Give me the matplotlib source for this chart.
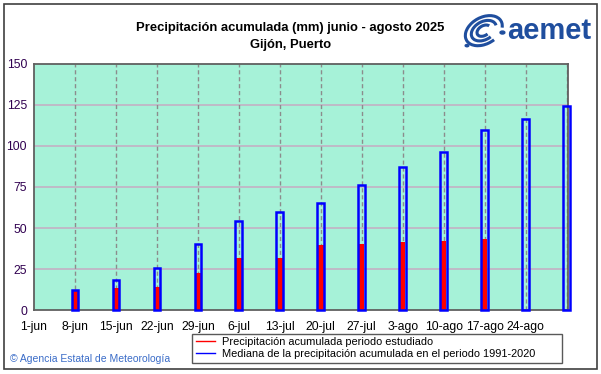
import numpy as np
import matplotlib.pyplot as plt
from matplotlib.patches import Rectangle, Arc, Circle

plt.rcParams['font.family'] = ['Liberation Sans', 'DejaVu Sans']

# days since 1-jun for each weekly mark
days = [7, 14, 21, 28, 35, 42, 49, 56, 63, 70, 77, 84, 91]
tick_days = [0, 7, 14, 21, 28, 35, 42, 49, 56, 63, 70, 77, 84]
tick_labels = ["1-jun", "8-jun", "15-jun", "22-jun", "29-jun", "6-jul", "13-jul",
               "20-jul", "27-jul", "3-ago", "10-ago", "17-ago", "24-ago"]
median = [12, 18, 25.5, 40.5, 54.5, 59.5, 65, 76, 87, 96.5, 109.5, 116.5, 124.5]
observed = [11.5, 13.5, 14, 22.5, 32, 32, 39.5, 40.5, 41.5, 42, 43, np.nan, np.nan]

fig = plt.figure(figsize=(6.01, 3.74), dpi=100)
fig.patch.set_facecolor("white")
fig.patches.append(Rectangle((0.007, 0.013), 0.986, 0.977, transform=fig.transFigure,
                             fill=False, edgecolor="#404040", lw=1.2))

ax = fig.add_axes([0.0566, 0.1711, 0.888, 0.6578])
ax.set_facecolor("#a6f2d8")
ax.set_xlim(0, 91.2)
ax.set_ylim(0, 150)

ax.set_yticks([0, 25, 50, 75, 100, 125, 150])
ax.set_xticks(tick_days)
ax.set_xticklabels(tick_labels)
ax.tick_params(length=0, labelsize=8.7)
ax.tick_params(axis="x", pad=8)
ax.tick_params(axis="y", pad=5)
for lab in ax.get_yticklabels():
    lab.set_color("#300050")

for y in [25, 50, 75, 100, 125]:
    ax.axhline(y, color="#c4b0c4", lw=1.2, zorder=1)
for d in tick_days[1:] + [91]:
    ax.axvline(d, color="#8c8c8c", lw=1, ls=(0, (3, 2)), zorder=1)

for s in ax.spines.values():
    s.set_color("#606060")
    s.set_linewidth(1.3)

ax.bar(days, observed, width=0.95, color="#ff0000", zorder=3, clip_on=False)
ax.bar(days, median, width=1.15, facecolor="none", edgecolor="#0000ff",
       lw=1.8, zorder=4, clip_on=False)

fig.text(0.483, 0.924, "Precipitación acumulada (mm) junio - agosto 2025",
         ha="center", va="center", fontsize=9.4, fontweight="bold")
fig.text(0.483, 0.881, "Gijón, Puerto", ha="center", va="center",
         fontsize=9.4, fontweight="bold")

# logo
logo = "#1f4e9e"
fig.text(0.984, 0.918, "aemet", ha="right", va="center", fontsize=21,
         fontweight="bold", color=logo)
cx, cy = 0.805, 0.918
for k, (w, h) in enumerate([(0.055, 0.085), (0.037, 0.058), (0.02, 0.032)]):
    fig.patches.append(Arc((cx, cy), w, h, angle=-25, theta1=40 + k * 20,
                           theta2=330, transform=fig.transFigure,
                           color=logo, lw=2.2))
fig.patches.append(Circle((cx + 0.031, cy - 0.005), 0.004, transform=fig.transFigure,
                          color=logo))
fig.patches.append(Circle((cx - 0.028, cy - 0.04), 0.003, transform=fig.transFigure,
                          color=logo))

fig.text(0.017, 0.04, "© Agencia Estatal de Meteorología", ha="left",
         va="center", fontsize=7.5, color="#3a6cc8")

h1, = ax.plot([], [], color="#ff0000", lw=1)
h2, = ax.plot([], [], color="#0000ff", lw=1)
leg = fig.legend([h1, h2], ["Precipitación acumulada periodo estudiado",
                            "Mediana de la precipitación acumulada en el periodo 1991-2020"],
                 loc="lower left", bbox_to_anchor=(0.311, 0.016, 0.634, 0.083),
                 mode="expand", fontsize=7.9,
                 frameon=True, fancybox=False, handlelength=1.8, borderpad=0.3,
                 labelspacing=0.2, handletextpad=0.6)
leg.get_frame().set_edgecolor("#303030")
leg.get_frame().set_linewidth(1)

fig.savefig("out.png", dpi=100)
